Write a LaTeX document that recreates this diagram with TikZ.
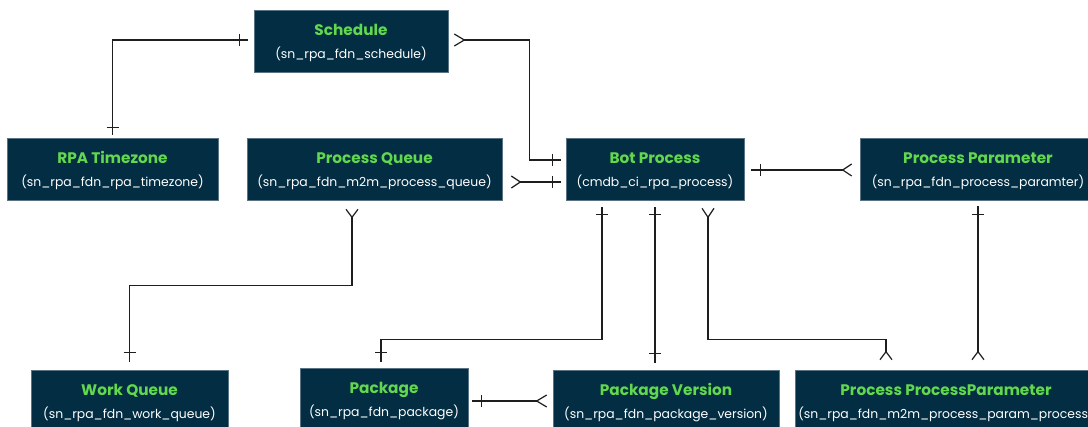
\documentclass[tikz,border=0pt]{standalone}
\usepackage{fontspec}
\setmainfont{Poppins}
\usetikzlibrary{calc}
\definecolor{boxblue}{HTML}{032D42}
\definecolor{wasabi}{HTML}{62D84E}
\definecolor{boxedge}{HTML}{5A7383}
\definecolor{linec}{HTML}{1E1E1E}
\newcommand{\ttl}[1]{{\fontsize{15.3}{23}\selectfont\bfseries\color{wasabi}\rule{0pt}{16pt}#1}}
\newcommand{\tickv}[1]{\draw[rel] ($(#1)+(0,-6)$) -- ($(#1)+(0,6)$);}
\newcommand{\tickh}[1]{\draw[rel] ($(#1)+(-6,0)$) -- ($(#1)+(6,0)$);}
\newcommand{\crowh}[2]{\draw[rel] ($(#1)+(#2,-6)$) -- (#1) -- ($(#1)+(#2,6)$);}
\newcommand{\crowv}[2]{\draw[rel] ($(#1)+(-6,#2)$) -- (#1) -- ($(#1)+(6,#2)$);}
\begin{document}
\begin{tikzpicture}[x=1pt,y=-1pt,
  entity/.style={rectangle, fill=boxblue, draw=boxedge, line width=0.6pt,
    minimum height=62pt, inner xsep=0pt, inner ysep=0pt, align=center,
    text=white, font=\fontsize{12.4}{23}\selectfont},
  rel/.style={draw=linec, line width=1.2pt},
]
\useasboundingbox (0,0) rectangle (1088,427);
\fill[white] (0,0) rectangle (1088,427);
\node[entity, minimum width=194pt] (sched) at (351,41) {\ttl{Schedule}\\(sn\_rpa\_fdn\_schedule)};
\node[entity, minimum width=211pt] (tz) at (112.5,169) {\ttl{RPA Timezone}\\(sn\_rpa\_fdn\_rpa\_timezone)};
\node[entity, minimum width=255pt] (pq) at (374.5,169) {\ttl{Process Queue}\\(sn\_rpa\_fdn\_m2m\_process\_queue)};
\node[entity, minimum width=178pt] (bot) at (655,169) {\ttl{Bot Process}\\(cmdb\_ci\_rpa\_process)};
\node[entity, minimum width=236pt] (pp) at (978,169) {\ttl{Process Parameter}\\(sn\_rpa\_fdn\_process\_paramter)};
\node[entity, minimum width=197pt] (wq) at (129.5,401) {\ttl{Work Queue}\\(sn\_rpa\_fdn\_work\_queue)};
\node[entity, minimum width=168pt] (pkg) at (384,399) {\ttl{Package}\\(sn\_rpa\_fdn\_package)};
\node[entity, minimum width=226pt] (pv) at (666,401) {\ttl{Package Version}\\(sn\_rpa\_fdn\_package\_version)};
\node[entity, minimum width=302pt] (ppp) at (946,401) {\ttl{Process ProcessParameter}\\(sn\_rpa\_fdn\_m2m\_process\_param\_process)};
% 1 Schedule - RPA Timezone
\coordinate (s1) at ($(sched.west)+(-6,-1)$);
\coordinate (t1) at ($(tz.north)+(0,-3)$);
\coordinate (k1a) at ($(sched.west)+(-14,-1)$);
\coordinate (k1b) at ($(tz.north)+(0,-10)$);
\draw[rel] (s1) -| (t1);
\tickv{k1a} \tickh{k1b}
% 2 Schedule - Bot Process
\coordinate (s2) at ($(sched.east)+(16,-1)$);
\coordinate (t2) at ($(bot.west)+(-5,-9)$);
\coordinate (k2) at ($(bot.west)+(-13,-9)$);
\draw[rel] (s2) -| ($(t2)+(-31,0)$) -- (t2);
\crowh{s2}{-10} \tickv{k2}
% 3 Process Queue - Bot Process
\coordinate (s3) at ($(pq.east)+(18,13)$);
\coordinate (t3) at ($(bot.west)+(-5,13)$);
\coordinate (k3) at ($(bot.west)+(-13,13)$);
\draw[rel] (s3) -- (t3);
\crowh{s3}{-9} \tickv{k3}
% 4 Bot Process - Process Parameter
\coordinate (s4) at ($(bot.east)+(7,1)$);
\coordinate (t4) at ($(pp.west)+(-17,1)$);
\coordinate (k4) at ($(bot.east)+(16,1)$);
\draw[rel] (s4) -- (t4);
\tickv{k4} \crowh{t4}{9}
% 5 Process Queue - Work Queue
\coordinate (s5) at ($(pq.south)+(-22.5,17)$);
\coordinate (t5) at ($(wq.north)+(0,-8)$);
\coordinate (k5) at ($(wq.north)+(0,-17)$);
\draw[rel] (s5) |- ($(t5)+(0,-76)$) -- (t5);
\crowv{s5}{-8} \tickh{k5}
% 6 Bot Process - Package
\coordinate (s6) at ($(bot.south)+(-53,7)$);
\coordinate (k6a) at ($(bot.south)+(-53,14)$);
\coordinate (t6) at ($(pkg.north)+(-3,-6)$);
\coordinate (k6b) at ($(pkg.north)+(-3,-15)$);
\draw[rel] (s6) |- ($(t6)+(0,-22)$) -- (t6);
\tickh{k6a} \tickh{k6b}
% 7 Bot Process - Package Version
\coordinate (s7) at ($(bot.south)+(0,7)$);
\coordinate (k7a) at ($(bot.south)+(0,14)$);
\coordinate (t7) at ($(bot.south |- pv.north)+(0,-7)$);
\coordinate (k7b) at ($(bot.south |- pv.north)+(0,-16)$);
\draw[rel] (s7) -- (t7);
\tickh{k7a} \tickh{k7b}
% 8 Bot Process - Process ProcessParameter
\coordinate (s8) at ($(bot.south)+(53,17)$);
\coordinate (t8) at ($(ppp.north)+(-60,-18)$);
\draw[rel] (s8) |- ($(t8)+(0,-12)$) -- (t8);
\crowv{s8}{-9} \crowv{t8}{8}
% 9 Process Parameter - Process ProcessParameter
\coordinate (s9) at ($(pp.south)+(0,6)$);
\coordinate (k9) at ($(pp.south)+(0,14)$);
\coordinate (t9) at ($(pp.south |- ppp.north)+(0,-18)$);
\draw[rel] (s9) -- (t9);
\tickh{k9} \crowv{t9}{8}
% 10 Package - Package Version
\coordinate (s10) at ($(pkg.east)+(4,2)$);
\coordinate (k10) at ($(pkg.east)+(13,2)$);
\coordinate (t10) at ($(pv.west)+(-16,0)$);
\draw[rel] (s10) -- (t10);
\tickv{k10} \crowh{t10}{10}
\end{tikzpicture}
\end{document}
